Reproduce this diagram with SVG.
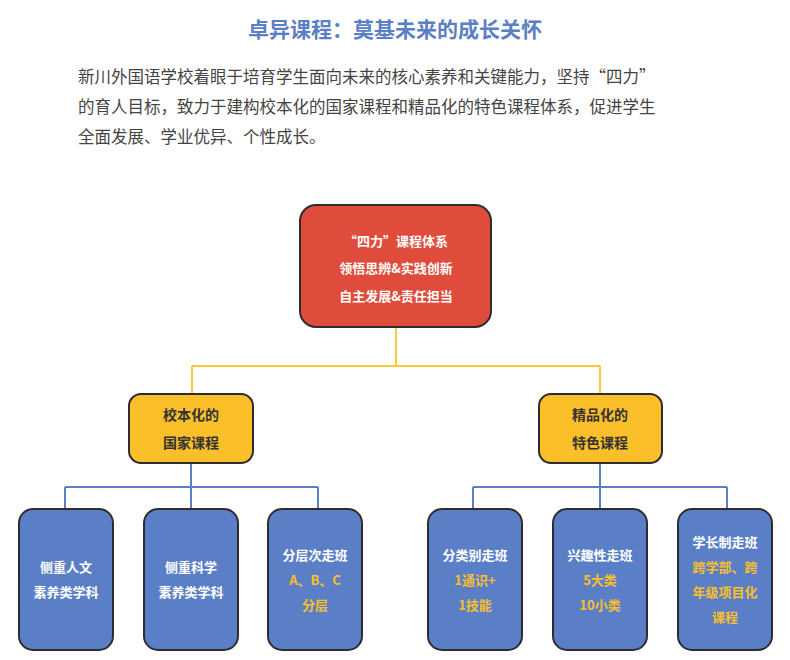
<svg xmlns="http://www.w3.org/2000/svg" width="790" height="660" viewBox="0 0 790 660">
<style>
text{font-family:"Noto Sans CJK SC","Noto Sans",sans-serif;text-anchor:middle;font-weight:bold}
.b{stroke:#2d2d2d;stroke-width:2}
.w{fill:#fff;font-size:13px}
.y{fill:#fbbf2a;font-size:13px}
.k{fill:#333;font-size:14px}
</style>
<rect width="790" height="660" fill="#fff"/>
<text x="395" y="37" font-size="21" fill="#5b7fc4">卓异课程：莫基未来的成长关怀</text>
<g font-size="16.5" fill="#444" style="font-weight:normal;text-anchor:start">
<text x="78" y="83" style="font-weight:normal;text-anchor:start">新川外国语学校着眼于培育学生面向未来的核心素养和关键能力，坚持“四力”</text>
<text x="78" y="113" style="font-weight:normal;text-anchor:start">的育人目标，致力于建构校本化的国家课程和精品化的特色课程体系，促进学生</text>
<text x="78" y="143" style="font-weight:normal;text-anchor:start">全面发展、学业优异、个性成长。</text>
</g>
<g id="connectors" fill="none" stroke-width="2">
<path d="M396 327V366M192 366H600M192 366V394M600 366V394" stroke="#fbc83a"/>
<path d="M191 463V487M65 487H318M65 487V509M191 487V509M318 487V509M600 463V487M473 487H727M473 487V509M600 487V509M727 487V509" stroke="#5b7fc6"/>
</g>
<g id="root"><rect class="b" x="300" y="205" width="191" height="122" rx="16" fill="#e04c3c"/>
<text class="w" x="396" y="246" font-size="14">“四力”课程体系</text>
<text class="w" x="396" y="273" font-size="14">领悟思辨&amp;实践创新</text>
<text class="w" x="396" y="301" font-size="14">自主发展&amp;责任担当</text></g>
<g id="left"><rect class="b" x="129" y="394" width="124" height="69" rx="12" fill="#fbbf2a"/>
<text class="k" x="191" y="420">校本化的</text><text class="k" x="191" y="448">国家课程</text></g>
<g id="right"><rect class="b" x="539" y="394" width="123" height="69" rx="12" fill="#fbbf2a"/>
<text class="k" x="600" y="420">精品化的</text><text class="k" x="600" y="448">特色课程</text></g>
<g id="n1"><rect class="b" x="19" y="509" width="94" height="141" rx="14" fill="#5b7fc6"/>
<text class="w" x="66" y="572">侧重人文</text><text class="w" x="66" y="597">素养类学科</text></g>
<g id="n2"><rect class="b" x="144" y="509" width="94" height="141" rx="14" fill="#5b7fc6"/>
<text class="w" x="191" y="572">侧重科学</text><text class="w" x="191" y="597">素养类学科</text></g>
<g id="n3"><rect class="b" x="268" y="509" width="94" height="141" rx="14" fill="#5b7fc6"/>
<text class="w" x="315" y="560">分层次走班</text><text class="y" x="315" y="585">A、B、C</text><text class="y" x="315" y="610">分层</text></g>
<g id="n4"><rect class="b" x="428" y="509" width="94" height="141" rx="14" fill="#5b7fc6"/>
<text class="w" x="475" y="560">分类别走班</text><text class="y" x="475" y="585">1通识+</text><text class="y" x="475" y="610">1技能</text></g>
<g id="n5"><rect class="b" x="553" y="509" width="94" height="141" rx="14" fill="#5b7fc6"/>
<text class="w" x="600" y="560">兴趣性走班</text><text class="y" x="600" y="585">5大类</text><text class="y" x="600" y="610">10小类</text></g>
<g id="n6"><rect class="b" x="678" y="509" width="94" height="141" rx="14" fill="#5b7fc6"/>
<text class="w" x="725" y="547">学长制走班</text><text class="y" x="725" y="572">跨学部、跨</text><text class="y" x="725" y="597">年级项目化</text><text class="y" x="725" y="622">课程</text></g>
</svg>
